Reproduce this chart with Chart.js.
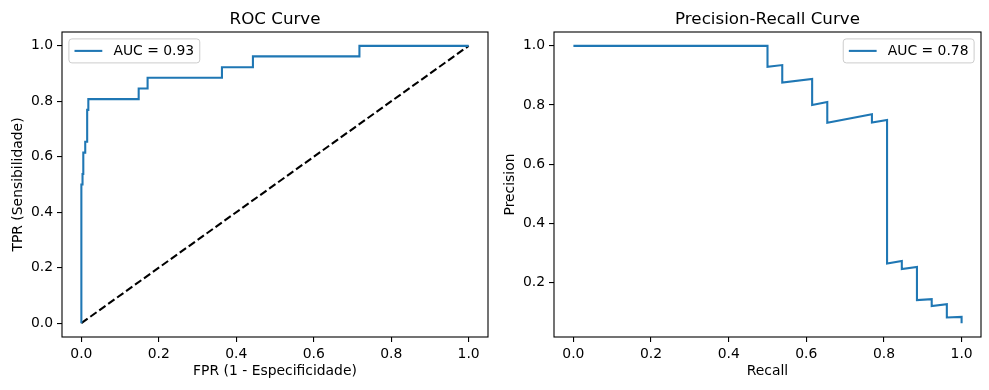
<!DOCTYPE html>
<html>
<head>
<meta charset="utf-8">
<script src="https://cdn.jsdelivr.net/npm/chart.js@4.4.1/dist/chart.umd.min.js"></script>
<style>
    body { margin: 0; background: #fff; }
    .panel { position: absolute; top: 0; }
</style>
</head>
<body>
<canvas id="rocChart" class="panel" width="494" height="390" style="left:0"></canvas>
<canvas id="prChart" class="panel" width="495" height="390" style="left:494px"></canvas>
<script>
// ROC curve (corner points)
const rocFpr = [0, 0, 0.003, 0.003, 0.005, 0.005, 0.010, 0.010, 0.015, 0.015, 0.018, 0.018,
    0.148, 0.148, 0.171, 0.171, 0.363, 0.363, 0.443, 0.443, 0.718, 0.718, 1.0];
const rocTpr = [0, 0.5, 0.5, 0.538, 0.538, 0.615, 0.615, 0.654, 0.654, 0.769, 0.769, 0.808,
    0.808, 0.846, 0.846, 0.885, 0.885, 0.923, 0.923, 0.962, 0.962, 1.0, 1.0];
const chanceX = [0, 1];
const chanceY = [0, 1];
const rocAuc = 0.93;

// Precision-recall curve
const prRecall = [0, 0.5, 0.5, 0.538, 0.538, 0.615, 0.615, 0.654, 0.654, 0.769, 0.769, 0.808,
    0.808, 0.846, 0.846, 0.885, 0.885, 0.923, 0.923, 0.962, 0.962, 1.0, 1.0];
const prPrecision = [1.0, 1.0, 0.929, 0.935, 0.876, 0.888, 0.8, 0.81, 0.74, 0.769, 0.741, 0.749,
    0.264, 0.272, 0.245, 0.252, 0.14, 0.143, 0.12, 0.126, 0.081, 0.083, 0.062];
const prAuc = 0.78;

const unitTicks = [0, 0.2, 0.4, 0.6, 0.8, 1.0];
const prYTicks = [0.2, 0.4, 0.6, 0.8, 1.0];

const FONT = 'DejaVu Sans';
const BLUE = '#1f77b4';

function points(xs, ys) {
    return xs.map((x, i) => ({ x: x, y: ys[i] }));
}

// axes frame like matplotlib spines
const framePlugin = {
    id: 'frame',
    afterDraw(chart) {
        const a = chart.chartArea;
        const ctx = chart.ctx;
        ctx.save();
        ctx.strokeStyle = '#000';
        ctx.lineWidth = 1.1;
        ctx.strokeRect(a.left, a.top, a.right - a.left, a.bottom - a.top);
        ctx.restore();
    }
};

// title centred over the plot area
const plotTitlePlugin = {
    id: 'plotTitle',
    afterDraw(chart, args, opts) {
        const a = chart.chartArea;
        const ctx = chart.ctx;
        ctx.save();
        ctx.font = '16.7px "' + FONT + '"';
        ctx.fillStyle = '#000';
        ctx.textAlign = 'center';
        ctx.textBaseline = 'alphabetic';
        ctx.fillText(opts.text, (a.left + a.right) / 2, a.top - 8.3);
        ctx.restore();
    }
};

// matplotlib style legend box
const boxLegendPlugin = {
    id: 'boxLegend',
    afterDraw(chart, args, opts) {
        const a = chart.chartArea;
        const ctx = chart.ctx;
        const ds = chart.data.datasets[0];
        const fs = 13.9;
        ctx.save();
        ctx.font = fs + 'px "' + FONT + '"';
        const tw = ctx.measureText(ds.label).width;
        const w = 5.6 + 27.8 + 11.1 + tw + 5.6;
        const h = 24;
        const x = opts.corner === 'right' ? a.right - 6.9 - w : a.left + 6.9;
        const y = a.top + 6.9;
        ctx.beginPath();
        ctx.roundRect(x, y, w, h, 3);
        ctx.fillStyle = 'rgba(255,255,255,0.8)';
        ctx.fill();
        ctx.strokeStyle = '#cccccc';
        ctx.lineWidth = 1;
        ctx.stroke();
        const cy = y + h / 2;
        ctx.beginPath();
        ctx.moveTo(x + 5.6, cy);
        ctx.lineTo(x + 5.6 + 27.8, cy);
        ctx.strokeStyle = ds.borderColor;
        ctx.lineWidth = 2.08;
        ctx.stroke();
        ctx.fillStyle = '#000';
        ctx.textBaseline = 'middle';
        ctx.fillText(ds.label, x + 5.6 + 27.8 + 11.1, cy + 0.5);
        ctx.restore();
    }
};

function axis(label, tickValues, min, max, horizontal, size, titlePad) {
    return {
        type: 'linear',
        min: min,
        max: max,
        afterBuildTicks: scale => { scale.ticks = tickValues.map(v => ({ value: v })); },
        afterFit: scale => {
            if (horizontal) scale.height = size; else scale.width = size;
        },
        border: { display: false },
        grid: { drawOnChartArea: false, drawTicks: true, tickLength: 5, color: '#000', lineWidth: 1.1 },
        ticks: {
            autoSkip: false,
            maxRotation: 0,
            padding: 4,
            color: '#000',
            font: { family: FONT, size: 13.9 },
            callback: v => v.toFixed(1)
        },
        title: {
            display: true,
            text: label,
            color: '#000',
            font: { family: FONT, size: 13.9, lineHeight: 1.2 },
            padding: horizontal ? { top: 0, bottom: titlePad } : { top: titlePad, bottom: 0 }
        }
    };
}

function baseOptions(rightPad, yWidth, yTitlePad, title, legendCorner, yMin, yMax, yTicks, xLabel, yLabel) {
    return {
        responsive: false,
        animation: false,
        devicePixelRatio: 1,
        layout: { padding: { top: 32, right: rightPad, bottom: 0, left: 0 } },
        plugins: {
            legend: { display: false },
            tooltip: { enabled: false },
            plotTitle: { text: title },
            boxLegend: { corner: legendCorner }
        },
        elements: { point: { radius: 0 }, line: { tension: 0 } },
        scales: {
            x: axis(xLabel, unitTicks, -0.05, 1.05, true, 53, 10),
            y: axis(yLabel, yTicks, yMin, yMax, false, yWidth, yTitlePad)
        }
    };
}

function createRocChart() {
    new Chart(document.getElementById('rocChart'), {
        type: 'line',
        data: {
            datasets: [
                {
                    label: 'AUC = ' + rocAuc.toFixed(2),
                    data: points(rocFpr, rocTpr),
                    borderColor: BLUE,
                    borderWidth: 2.08,
                    fill: false
                },
                {
                    label: 'chance',
                    data: points(chanceX, chanceY),
                    borderColor: '#000',
                    borderWidth: 2.08,
                    borderDash: [7.7, 3.3],
                    fill: false
                }
            ]
        },
        options: baseOptions(6, 62, 10, 'ROC Curve', 'left', -0.05, 1.05, unitTicks,
            'FPR (1 - Especificidade)', 'TPR (Sensibilidade)'),
        plugins: [framePlugin, plotTitlePlugin, boxLegendPlugin]
    });
}

function createPrChart() {
    const lo = Math.min(...prPrecision);
    const hi = Math.max(...prPrecision);
    const m = (hi - lo) * 0.05;
    new Chart(document.getElementById('prChart'), {
        type: 'line',
        data: {
            datasets: [{
                label: 'AUC = ' + prAuc.toFixed(2),
                data: points(prRecall, prPrecision),
                borderColor: BLUE,
                borderWidth: 2.08,
                fill: false
            }]
        },
        options: baseOptions(8, 60, 8, 'Precision-Recall Curve', 'right', lo - m, hi + m, prYTicks,
            'Recall', 'Precision'),
        plugins: [framePlugin, plotTitlePlugin, boxLegendPlugin]
    });
}

createRocChart();
createPrChart();
</script>
</body>
</html>
